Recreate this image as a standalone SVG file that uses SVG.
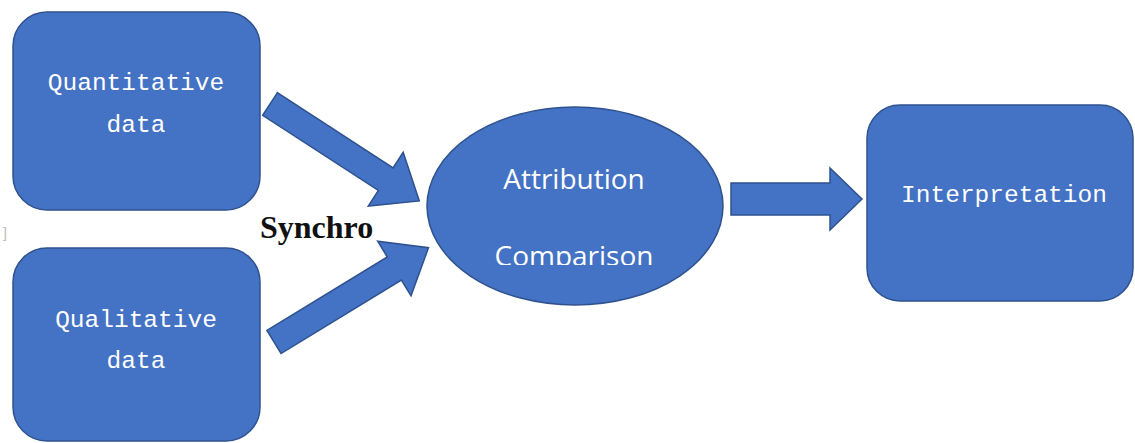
<svg xmlns="http://www.w3.org/2000/svg" width="1135" height="443" viewBox="0 0 1135 443">
<style>
.shape{fill:#4472C4;stroke:#2F528F;stroke-width:1.5}
.mono{font-family:"Liberation Mono","DejaVu Sans Mono",monospace;font-size:24.5px;fill:#FFFFFF;text-anchor:middle}
.sans{font-family:"Open Sans","Liberation Sans",sans-serif;font-size:28px;fill:#FFFFFF;text-anchor:middle}
.lbl{font-family:"Liberation Serif","Times New Roman",serif;font-weight:bold;font-size:32px;fill:#111111}
</style>
<defs>
<clipPath id="clipCmp"><rect x="430" y="200" width="300" height="65"/></clipPath>
</defs>
<rect width="1135" height="443" fill="#FFFFFF"/>
<text x="3" y="238" font-family="Liberation Sans, sans-serif" font-size="14" fill="#BBBBBB">]</text>
<g id="connectors">
<polygon class="shape" transform="translate(270,104) rotate(33)" points="0,-13.5 138,-13.5 138,-32 178,0 138,32 138,13.5 0,13.5"/>
<polygon class="shape" transform="translate(274,342) rotate(-31.4)" points="0,-13.5 141,-13.5 141,-32 181,0 141,32 141,13.5 0,13.5"/>
<polygon class="shape" points="731,183 830,183 830,168 862,199 830,230 830,215 731,215"/>
</g>
<g id="quantitative">
<rect class="shape" x="13" y="12" width="247" height="198" rx="34" ry="34"/>
<text class="mono" x="136" y="90">Quantitative</text>
<text class="mono" x="136" y="132">data</text>
</g>
<g id="qualitative">
<rect class="shape" x="13" y="248" width="247" height="193" rx="34" ry="34"/>
<text class="mono" x="136" y="327">Qualitative</text>
<text class="mono" x="136" y="368">data</text>
</g>
<g id="attribution">
<ellipse class="shape" cx="575" cy="206" rx="148" ry="99"/>
<text class="sans" x="574" y="189">Attribution</text>
<text class="sans" x="574" y="266" clip-path="url(#clipCmp)">Comparison</text>
</g>
<g id="interpretation">
<rect class="shape" x="867" y="105" width="266" height="196" rx="33" ry="33"/>
<text class="mono" x="1004" y="202">Interpretation</text>
</g>
<g id="synchro">
<text class="lbl" x="260" y="238">Synchro</text>
</g>
</svg>
